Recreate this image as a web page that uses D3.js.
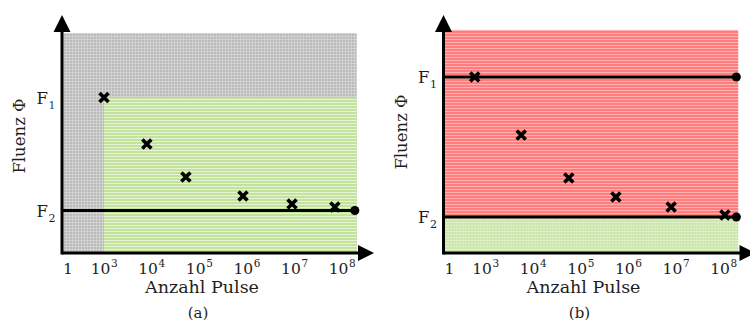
<!DOCTYPE html>
<html>
<head>
<meta charset="utf-8">
<script src="https://cdn.jsdelivr.net/npm/d3@7"></script>
<style>
  body { margin: 0; background: #fff; }
</style>
</head>
<body>
<div id="chart"></div>
<script>
// x values are log10(pulse count)
const xTickExp = [0, 3, 4, 5, 6, 7, 8];
const fluenceTicks = [{ label: "F", sub: "1", value: 1 }, { label: "F", sub: "2", value: 0 }];

// panel (a) measurements
const pulsesA = [3.0, 3.9, 4.72, 5.92, 6.95, 7.85];
const fluenceA = [1.0, 0.588, 0.296, 0.128, 0.058, 0.031];
// panel (b) measurements
const pulsesB = [2.1, 3.75, 4.75, 5.74, 6.9, 8.03];
const fluenceB = [1.0, 0.586, 0.279, 0.143, 0.071, 0.014];

const xMin = -0.5, xEnd = 8.31, lineEnd = 8.27;
const serif = "'DejaVu Serif', serif";
const ink = "#1e1e1e";

let width = 750, height = 324;
let svg = d3.select("#chart").append("svg")
    .attr("width", width)
    .attr("height", height)
    .style("font-family", serif);

// patterns
let defs = svg.append("defs");
function gridPattern(id, base, dot) {
    let p = defs.append("pattern").attr("id", id)
        .attr("patternUnits", "userSpaceOnUse").attr("width", 3).attr("height", 3);
    p.append("rect").attr("width", 3).attr("height", 3).attr("fill", base);
    p.append("rect").attr("width", 1).attr("height", 3).attr("fill", dot);
    p.append("rect").attr("width", 3).attr("height", 1).attr("fill", dot);
}
function stripePattern(id, base, line) {
    let p = defs.append("pattern").attr("id", id)
        .attr("patternUnits", "userSpaceOnUse").attr("width", 4).attr("height", 3);
    p.append("rect").attr("width", 4).attr("height", 3).attr("fill", base);
    p.append("rect").attr("width", 4).attr("height", 1).attr("fill", line);
}
gridPattern("gray", "#b9b9b9", "#d2d2d2");
gridPattern("greenGrid", "#c6e4a4", "#dcefc6");
stripePattern("greenStripe", "#c3e39c", "#e6f3d6");
stripePattern("redStripe", "#ff7d7d", "#ffb0b0");

let x = d3.scaleLinear()
    .domain([0, 3, 8])
    .range([68, 104, 342]);

function drawPanel(offset, cfg) {
    let g = svg.append("g").attr("transform", `translate(${offset},0)`);
    let y = d3.scaleLinear().domain([0, 1]).range(cfg.yRange);
    let bottom = 253;

    cfg.regions.forEach(r => {
        let yb = r.y0 === null ? bottom : y(r.y0);
        g.append("rect")
            .attr("x", x(r.x0))
            .attr("y", y(r.y1))
            .attr("width", x(xEnd) - x(r.x0))
            .attr("height", yb - y(r.y1))
            .attr("fill", `url(#${r.fill})`);
    });

    // threshold lines with end dot
    cfg.lines.forEach(v => {
        g.append("line")
            .attr("x1", x(xMin)).attr("x2", x(lineEnd))
            .attr("y1", y(v)).attr("y2", y(v))
            .attr("stroke", "#000").attr("stroke-width", 3);
        g.append("circle")
            .attr("cx", x(lineEnd)).attr("cy", y(v)).attr("r", 4.5)
            .attr("fill", "#000");
    });

    // markers
    let pts = cfg.px.map((p, i) => ({ p, f: cfg.fy[i] }));
    let s = 4.5;
    g.selectAll(".mark").data(pts).enter().append("path")
        .attr("class", "mark")
        .attr("d", d => {
            let cx = x(d.p), cy = y(d.f);
            return `M${cx - s},${cy - s}L${cx + s},${cy + s}M${cx - s},${cy + s}L${cx + s},${cy - s}`;
        })
        .attr("stroke", "#000").attr("stroke-width", 3.6);

    // axes with arrows
    let ax = x(xMin);
    g.append("line").attr("x1", ax).attr("x2", ax).attr("y1", bottom + 1.5).attr("y2", 30)
        .attr("stroke", "#000").attr("stroke-width", 3);
    g.append("path").attr("d", `M${ax - 8.5},32L${ax + 8.5},32L${ax},15Z`).attr("fill", "#000");
    g.append("line").attr("x1", ax).attr("x2", 360).attr("y1", bottom).attr("y2", bottom)
        .attr("stroke", "#000").attr("stroke-width", 3);
    g.append("path").attr("d", `M358,${bottom - 8}L358,${bottom + 8}L374,${bottom}Z`).attr("fill", "#000");

    // x tick labels: base and exponent as separate texts
    let xt = g.selectAll(".xt").data(xTickExp).enter().append("g")
        .attr("class", "xt")
        .attr("transform", d => `translate(${x(d)},274)`);
    xt.append("text")
        .attr("x", d => d === 0 ? 0 : -3.5)
        .attr("text-anchor", "middle")
        .attr("fill", ink)
        .style("font-size", "15.5px")
        .text(d => d === 0 ? "1" : "10");
    xt.filter(d => d !== 0).append("text")
        .attr("x", 7).attr("y", -7)
        .attr("fill", ink)
        .style("font-size", "10.5px")
        .text(d => d);

    // y tick labels
    let yt = g.selectAll(".yt").data(fluenceTicks).enter().append("g")
        .attr("class", "yt")
        .attr("transform", d => `translate(${ax - 7},${y(d.value) + 6})`);
    yt.append("text")
        .attr("x", -7)
        .attr("text-anchor", "end")
        .attr("fill", ink)
        .style("font-size", "16.5px")
        .text(d => d.label);
    yt.append("text")
        .attr("x", -6.5).attr("y", 5)
        .attr("fill", (d, i) => cfg.subBlue && i === 0 ? "#2b3d7a" : ink)
        .style("font-size", "11px")
        .text(d => d.sub);

    g.append("text")
        .attr("transform", `translate(25,${cfg.yLabelMid}) rotate(-90)`)
        .attr("text-anchor", "middle")
        .attr("fill", ink)
        .style("font-size", "16.5px")
        .text("Fluenz Φ");

    g.append("text")
        .attr("x", 202).attr("y", 293)
        .attr("text-anchor", "middle")
        .attr("fill", ink)
        .style("font-size", "17.5px")
        .text("Anzahl Pulse");

    g.append("text")
        .attr("x", 198).attr("y", 318)
        .attr("text-anchor", "middle")
        .attr("fill", ink)
        .style("font-size", "15px")
        .text(cfg.caption);
}

drawPanel(0, {
    yRange: [210.5, 97.5],
    regions: [
        { x0: xMin, y0: null, y1: 1.571, fill: "gray" },
        { x0: 3.0, y0: null, y1: 1.0, fill: "greenStripe" }
    ],
    lines: [0],
    px: pulsesA, fy: fluenceA,
    yLabelMid: 136, caption: "(a)", subBlue: true
});

drawPanel(381.5, {
    yRange: [217, 77],
    regions: [
        { x0: xMin, y0: 0, y1: 1.336, fill: "redStripe" },
        { x0: xMin, y0: null, y1: 0, fill: "greenGrid" }
    ],
    lines: [1, 0],
    px: pulsesB, fy: fluenceB,
    yLabelMid: 132, caption: "(b)", subBlue: false
});
</script>
</body>
</html>
